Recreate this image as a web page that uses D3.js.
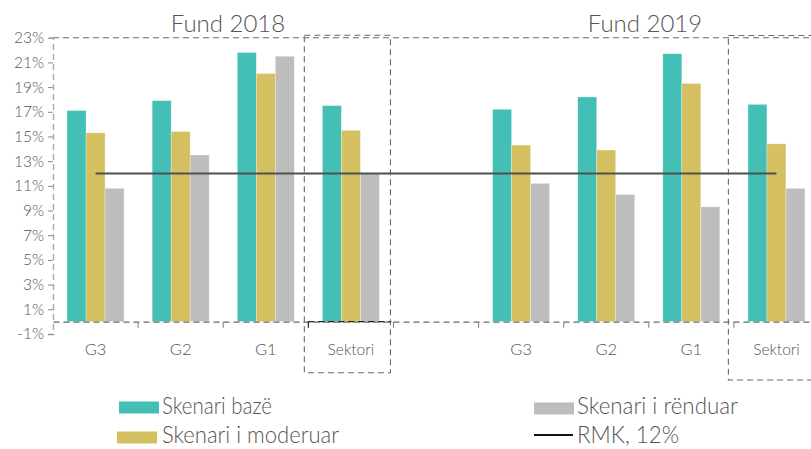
<!DOCTYPE html>
<html><head><meta charset="utf-8">
<script src="https://cdn.jsdelivr.net/npm/d3@7/dist/d3.min.js"></script>
<style>
body{margin:0;background:#fff;}
text{font-family:Lato,"Open Sans",sans-serif;font-weight:300;fill:#555;}
</style></head>
<body><svg id="c" width="811" height="449"></svg>
<script>
const categories = ["G3","G2","G1","Sektori"];
const periods = ["Fund 2018","Fund 2019"];
const baze2018 = [17.1, 17.9, 21.8, 17.5];
const moderuar2018 = [15.3, 15.4, 20.1, 15.5];
const renduar2018 = [10.8, 13.5, 21.5, 12.0];
const baze2019 = [17.2, 18.2, 21.7, 17.6];
const moderuar2019 = [14.3, 13.9, 19.3, 14.4];
const renduar2019 = [11.2, 10.3, 9.3, 10.8];
const rmk = 12;
const seriesNames = ["Skenari bazë","Skenari i moderuar","Skenari i rënduar"];
const colors = ["#43bfb5","#d4c060","#bdbdbd"];
const yTicks = [-1,1,3,5,7,9,11,13,15,17,19,21,23];

// build keys: 2018 cats, a spacer, 2019 cats
const keys = [];
categories.forEach(c=>keys.push("2018|"+c));
keys.push("gap|");
categories.forEach(c=>keys.push("2019|"+c));
const rows = [];
categories.forEach((c,i)=>rows.push({key:"2018|"+c, vals:[baze2018[i],moderuar2018[i],renduar2018[i]]}));
categories.forEach((c,i)=>rows.push({key:"2019|"+c, vals:[baze2019[i],moderuar2019[i],renduar2019[i]]}));

const svg = d3.select("#c");
const x = d3.scaleBand().domain(keys).range([53, 819]).padding(0);
const xs = d3.scaleBand().domain(seriesNames).range([0, x.bandwidth()]).paddingInner(0).paddingOuter(0.74);
const y = d3.scaleLinear().domain([-1, 23]).range([334, 37.7]);
const dash = "6,4";
const gridCol = "#6a6a6a";

// bars
rows.forEach(r=>{
  svg.append("g").attr("transform",`translate(${x(r.key)},0)`)
    .selectAll("rect").data(r.vals).join("rect")
    .attr("x",(d,i)=>xs(seriesNames[i]))
    .attr("width",xs.bandwidth())
    .attr("y",d=>y(d))
    .attr("height",d=>y(0)-y(d))
    .attr("fill",(d,i)=>colors[i])
    .attr("stroke","#ffffff").attr("stroke-opacity",0.5).attr("stroke-width",0.6);
});

// top border
svg.append("line").attr("x1",x.range()[0]).attr("x2",x.range()[1])
  .attr("y1",y(23)).attr("y2",y(23))
  .attr("stroke",gridCol).attr("stroke-dasharray",dash).attr("stroke-width",1.1);

// y axis
const yAxis = svg.append("g").attr("transform",`translate(${x.range()[0]},0)`)
  .call(d3.axisLeft(y).tickValues(yTicks).tickSize(5).tickSizeOuter(5).tickPadding(4).tickFormat(d=>d+"%"));
yAxis.select(".domain").attr("stroke","#aaa").attr("stroke-dasharray",dash).attr("stroke-width",1.4);
yAxis.selectAll(".tick line").attr("stroke","#888");
yAxis.selectAll("text").style("font-size","15.5px").attr("fill","#555");

// x axis baseline and labels
const xAxis = svg.append("g").attr("transform",`translate(0,${y(0)})`)
  .call(d3.axisBottom(x).tickSize(0).tickPadding(22).tickFormat(k=>k.split("|")[1]));
xAxis.select(".domain").attr("stroke",gridCol).attr("stroke-dasharray",dash).attr("stroke-width",1.1);
xAxis.selectAll("text").style("font-size","16.5px").attr("fill","#555");
xAxis.selectAll(".tick").filter(k=>k.endsWith("Sektori")).select("text").style("font-size","15.5px");

// boundary ticks
keys.slice(1).forEach(k=>{
  svg.append("line").attr("x1",x(k)).attr("x2",x(k)).attr("y1",y(0)).attr("y2",y(0)+6)
    .attr("stroke", k==="2018|Sektori" ? "#111" : "#888").attr("stroke-width",1.1);
});
// darker baseline segment under Sektori 2018
svg.append("line").attr("x1",x("2018|Sektori")).attr("x2",x("2018|Sektori")+x.bandwidth()-2)
  .attr("y1",y(0)).attr("y2",y(0)).attr("stroke","#222").attr("stroke-dasharray",dash).attr("stroke-width",1.2);

// Sektori boxes
const b1 = x("2018|Sektori");
svg.append("rect").attr("x",b1-4).attr("y",35.3).attr("width",x.bandwidth()+1).attr("height",372.7-35.3)
  .attr("fill","none").attr("stroke",gridCol).attr("stroke-dasharray",dash).attr("stroke-width",1.1);
const b2 = x("2019|Sektori");
svg.append("rect").attr("x",b2-5.5).attr("y",35.5).attr("width",x.bandwidth()+20).attr("height",380-35.5)
  .attr("fill","none").attr("stroke",gridCol).attr("stroke-dasharray",dash).attr("stroke-width",1.1);

// RMK line
svg.append("line")
  .attr("x1",x("2018|G3")+x.bandwidth()/2).attr("x2",x("2019|Sektori")+x.bandwidth()/2)
  .attr("y1",y(rmk)).attr("y2",y(rmk)).attr("stroke","#505050").attr("stroke-width",2);

// period titles
[["2018",228],["2019",645]].forEach(([p,cx],i)=>{
  svg.append("text").attr("x",cx).attr("y",32).attr("text-anchor","middle")
    .style("font-size","24px").attr("fill","#404040").text(periods[i]);
});

// legend
const leg = [
  {type:"rect",c:colors[0],sx:119,sy:401.5,tx:162,ty:414,tl:110,label:seriesNames[0]},
  {type:"rect",c:colors[1],sx:117,sy:431.5,tx:162,ty:443,tl:177,label:seriesNames[1]},
  {type:"rect",c:colors[2],sx:534,sy:402.5,tx:577,ty:414,tl:161,label:seriesNames[2]},
  {type:"line",c:"#111",sx:534,sy:435,tx:577,ty:443,tl:102,label:"RMK, 12%"}
];
leg.forEach(l=>{
  if(l.type==="rect") svg.append("rect").attr("x",l.sx).attr("y",l.sy).attr("width",40).attr("height",12).attr("fill",l.c);
  else svg.append("line").attr("x1",l.sx).attr("x2",l.sx+39).attr("y1",l.sy).attr("y2",l.sy).attr("stroke",l.c).attr("stroke-width",2);
  svg.append("text").attr("x",l.tx).attr("y",l.ty).style("font-size","23px").attr("fill","#404040")
    .attr("textLength",l.tl).attr("lengthAdjust","spacingAndGlyphs").text(l.label);
});
</script></body></html>
